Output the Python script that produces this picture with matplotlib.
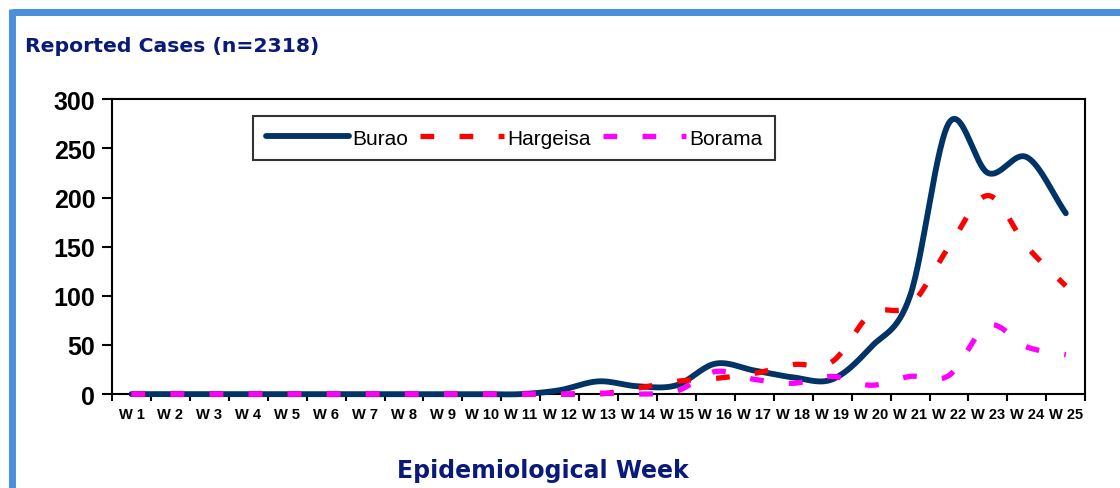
import matplotlib
matplotlib.use("Agg")
import matplotlib.pyplot as plt
import numpy as np

weeks = ["W %d" % i for i in range(1, 26)]
burao = [0, 0, 0, 0, 0, 0, 0, 0, 0, 0, 0, 4, 13, 8, 9, 31, 24, 17, 15, 48, 100, 276, 225, 241, 184]
hargeisa = [0, 0, 0, 0, 0, 0, 0, 0, 0, 0, 0, 0, 0, 6, 13, 16, 21, 30, 33, 82, 90, 150, 202, 150, 110]
borama = [0, 0, 0, 0, 0, 0, 0, 0, 0, 0, 0, 0, 1, 0, 3, 23, 15, 11, 18, 9, 18, 19, 70, 48, 40]

navy = "#003366"
title_col = "#0a1a78"
border_col = "#4a8edc"


def smooth(y, n=30):
    # Excel-like smoothed line: cubic Hermite through each point
    y = np.asarray(y, float)
    x = np.arange(len(y)) + 0.5
    m = np.gradient(y)
    xs, ys = [], []
    for i in range(len(y) - 1):
        t = np.linspace(0, 1, n, endpoint=False)
        h00 = 1 - 3 * t**2 + 2 * t**3
        h10 = t - 2 * t**2 + t**3
        h01 = 3 * t**2 - 2 * t**3
        h11 = t**3 - t**2
        xs.append(x[i] + t)
        ys.append(h00 * y[i] + h10 * m[i] + h01 * y[i + 1] + h11 * m[i + 1])
    xs.append([x[-1]])
    ys.append([y[-1]])
    return np.concatenate(xs), np.concatenate(ys)


fig = plt.figure(figsize=(11.2, 4.89), dpi=100)
ax = fig.add_axes([0.1, 0.192, 0.869, 0.603])

dash = (0, (2.6, 4.8))
lw = 3.8
x, y = smooth(burao)
ax.plot(x, y, color=navy, lw=4.2, solid_capstyle="round", label="Burao", clip_on=False)
x, y = smooth(hargeisa)
ax.plot(x, y, color="#ff0000", lw=lw, linestyle=dash, dash_capstyle="butt",
        label="Hargeisa", clip_on=False)
x, y = smooth(borama)
ax.plot(x, y, color="#ff00ff", lw=lw, linestyle=dash, dash_capstyle="butt",
        label="Borama", clip_on=False)

ax.set_xlim(0, 25)
ax.set_ylim(0, 300)
ax.set_yticks(range(0, 301, 50))
ax.set_yticklabels([str(v) for v in range(0, 301, 50)],
                   fontsize=18, fontweight="bold", family="Liberation Sans")
ax.set_xticks(np.arange(26), minor=False)
ax.set_xticklabels([])
ax.set_xticks(np.arange(25) + 0.5, minor=True)
ax.set_xticklabels(weeks, minor=True, fontsize=10.5, fontweight="bold",
                   family="Liberation Sans")
ax.tick_params(axis="x", which="minor", length=0, pad=9)
ax.tick_params(axis="x", which="major", length=5, width=1.5, direction="out")
ax.tick_params(axis="y", length=7, width=1.5, direction="out", pad=5)
for s in ax.spines.values():
    s.set_linewidth(1.5)
    s.set_zorder(1)

leg = ax.legend(loc="upper left", bbox_to_anchor=(0.145, 0.943), ncol=3,
                prop={"family": "Liberation Sans", "size": 15},
                frameon=True, fancybox=False, edgecolor="black",
                handlelength=4.0, handletextpad=0.15, columnspacing=0.6,
                borderpad=0.6, borderaxespad=0)
leg.get_frame().set_linewidth(1.5)

fig.text(0.022, 0.904, "Reported Cases (n=2318)", fontsize=14.7, fontweight="bold",
         color=title_col, va="center", ha="left")
fig.text(0.485, 0.037, "Epidemiological Week", fontsize=17, fontweight="bold",
         color=title_col, va="center", ha="center")

# blue frame at top and left
fig.add_artist(plt.Line2D([0.0105, 1.0], [0.973, 0.973], color=border_col, lw=5,
                          transform=fig.transFigure, solid_capstyle="butt"))
fig.add_artist(plt.Line2D([0.0105, 0.0105], [0.0, 0.979], color=border_col, lw=5,
                          transform=fig.transFigure, solid_capstyle="butt"))

fig.savefig("out.png", dpi=100)
